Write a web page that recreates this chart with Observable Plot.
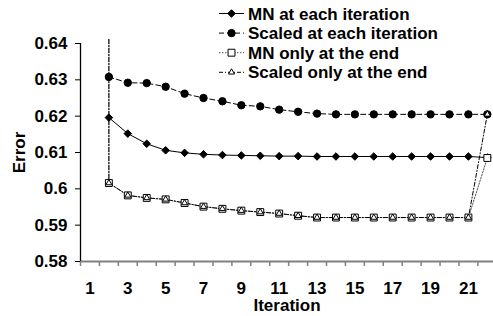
<!DOCTYPE html>
<html><head><meta charset="utf-8">
<script src="https://cdn.jsdelivr.net/npm/d3@7"></script>
<script src="https://cdn.jsdelivr.net/npm/@observablehq/plot@0.6"></script>
<style>
body{margin:0;background:#fff;}
#chart{position:relative;width:493px;height:316px;}
</style></head>
<body><div id="chart"></div>
<script>
// ---- data ----
const iterations = [2,3,4,5,6,7,8,9,10,11,12,13,14,15,16,17,18,19,20,21,22];
const mnEach     = [0.6196,0.6152,0.6124,0.6106,0.6099,0.6095,0.6093,0.6092,0.6091,0.6090,0.6090,0.6089,0.6089,0.6089,0.6089,0.6089,0.6089,0.6089,0.6089,0.6089,0.6086];
const scaledEach = [0.6308,0.6292,0.6291,0.6281,0.6262,0.6250,0.6241,0.6230,0.6227,0.6218,0.6212,0.6207,0.6205,0.6205,0.6205,0.6205,0.6205,0.6205,0.6205,0.6205,0.6205];
const mnEnd      = [0.6016,0.5982,0.5975,0.5971,0.5961,0.5951,0.5945,0.5940,0.5936,0.5932,0.5926,0.5921,0.5921,0.5921,0.5921,0.5921,0.5921,0.5921,0.5921,0.5921,0.6085];
const scaledEnd  = [0.6016,0.5982,0.5975,0.5971,0.5961,0.5951,0.5945,0.5940,0.5936,0.5932,0.5926,0.5921,0.5921,0.5921,0.5921,0.5921,0.5921,0.5921,0.5921,0.5921,0.6205];
const initialError = 0.6411; // start of the "only at the end" lines (off the top, at iteration 2)
const seriesNames = ["MN at each iteration","Scaled at each iteration","MN only at the end","Scaled only at the end"];
const yTicks = [0.58,0.59,0.60,0.61,0.62,0.63,0.64];
const xLabelTicks = [1,3,5,7,9,11,13,15,17,19,21];
const xCategoryEdges = [0.5,1.5,2.5,3.5,4.5,5.5,6.5,7.5,8.5,9.5,10.5,11.5,12.5,13.5,14.5,15.5,16.5,17.5,18.5,19.5,20.5,21.5];

const toRows = vals => iterations.map((x,i)=>({x, y: vals[i]}));
const withStart = vals => [{x: iterations[0], y: initialError}, ...toRows(vals)];

const styles = [
  {dash:null, symbol:"diamond2", r:3.4, fill:"black", stroke:"black", lineStroke:"black"},
  {dash:"5,3", symbol:"circle", r:3.7, fill:"black", stroke:"black", lineStroke:"black"},
  {dash:"1.5,1.5", symbol:"square", r:3.9, fill:"white", stroke:"black", lineStroke:"#555"},
  {dash:"4,2,1,2", symbol:"triangle2", r:2.9, fill:"white", stroke:"black", lineStroke:"black"}
];
const lineData = [toRows(mnEach), toRows(scaledEach), withStart(mnEnd), withStart(scaledEnd)];
const dotData = [toRows(mnEach), toRows(scaledEach), toRows(mnEnd), toRows(scaledEnd)];

const font = "'Liberation Sans', Arial, sans-serif";
const lineOrder = [2,3,0,1];
const marks = [
  Plot.ruleY([0.58], {x1: 0.5, x2: 22.5, stroke: "#808080", strokeWidth: 2}),
  Plot.axisX({ticks: xCategoryEdges, tickSize: 5, tickFormat: () => "", stroke: "#808080", strokeWidth: 1.5, label: null}),
  Plot.axisX({ticks: xLabelTicks, tickSize: 0, tickPadding: 20, tickFormat: d => String(d), fill: "black", label: null}),
  Plot.ruleX([0.5], {y1: 0.58, y2: 0.64, stroke: "black", strokeWidth: 1.3}),
  Plot.axisY({ticks: yTicks, tickSize: 5, tickPadding: 8, tickFormat: d => String(+d.toFixed(2)), stroke: "black", label: null}),
  Plot.text(["Iteration"], {frameAnchor: "bottom", lineAnchor: "middle", textAnchor: "middle", dy: 44, text: d => d}),
  Plot.text(["Error"], {frameAnchor: "left", lineAnchor: "middle", textAnchor: "middle", dx: -61, rotate: -90, text: d => d}),
  ...lineOrder.map(i => Plot.line(lineData[i], {x: "x", y: "y", stroke: styles[i].lineStroke, strokeWidth: 1, strokeDasharray: styles[i].dash})),
  ...[0,1,2,3].map(i => Plot.dot(dotData[i], {x: "x", y: "y", symbol: () => styles[i].symbol, r: styles[i].r, fill: styles[i].fill, stroke: styles[i].stroke, strokeWidth: 1}))
];

const plot = Plot.plot({
  width: 493, height: 316,
  marginLeft: 80, marginTop: 43, marginBottom: 55, marginRight: 0,
  x: {domain: [0.5, 22.5], range: [80, 496.3], axis: null},
  y: {domain: [0.58, 0.64], range: [261, 43], axis: null},
  symbol: {type: "identity"},
  style: {fontFamily: font, fontSize: "17px", fontWeight: "bold", background: "white", color: "black", overflow: "visible"},
  marks
});
document.getElementById("chart").appendChild(plot);

// ---- legend (inside the chart, top right) ----
const svg = d3.select(plot);
const lg = svg.append("g").attr("text-anchor", "start");
const symMap = {diamond2: d3.symbolDiamond2, circle: d3.symbolCircle, square: d3.symbolSquare, triangle2: d3.symbolTriangle2};
seriesNames.forEach((name, i) => {
  const y = 13.5 + i * 19.6;
  const g = lg.append("g").attr("transform", `translate(0,${y})`);
  g.append("line").attr("x1", 219).attr("x2", 244).attr("y1", 0).attr("y2", 0)
    .attr("stroke", styles[i].lineStroke).attr("stroke-width", 1)
    .attr("stroke-dasharray", styles[i].dash);
  g.append("path").attr("transform", "translate(231.5,0)")
    .attr("d", d3.symbol(symMap[styles[i].symbol], Math.PI * styles[i].r * styles[i].r)())
    .attr("fill", styles[i].fill).attr("stroke", styles[i].stroke).attr("stroke-width", 1);
  g.append("text").attr("x", 248).attr("y", 6).attr("text-anchor", "start").text(name)
    .attr("font-family", font).attr("font-size", 17).attr("font-weight", "bold").attr("fill", "black");
});
</script></body></html>
